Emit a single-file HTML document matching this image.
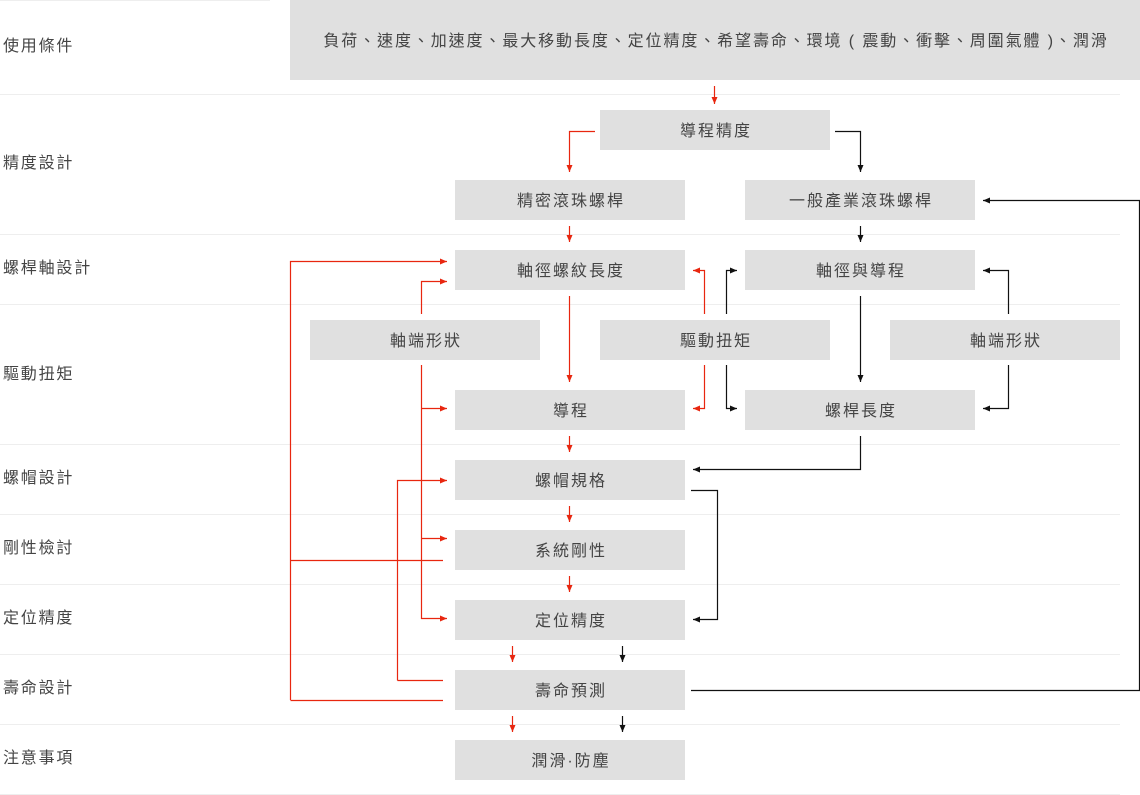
<!DOCTYPE html><html><head><meta charset="utf-8"><style>body{margin:0;background:#fff}svg{display:block}text{font-family:"Liberation Sans","Noto Sans CJK TC",sans-serif;fill:#444}</style></head><body>
<svg width="1140" height="795" viewBox="0 0 1140 795" xmlns="http://www.w3.org/2000/svg">
<defs>
<marker id="r" markerWidth="8" markerHeight="8" refX="7" refY="4" orient="auto" markerUnits="userSpaceOnUse"><path d="M0,1 L7,4 L0,7z" fill="#e8260f"/></marker>
<marker id="k" markerWidth="8" markerHeight="8" refX="7" refY="4" orient="auto" markerUnits="userSpaceOnUse"><path d="M0,1 L7,4 L0,7z" fill="#111"/></marker>
</defs>
<g stroke="#eee" stroke-width="1">
<line x1="0" y1="0.5" x2="270" y2="0.5"/>
<line x1="0" y1="94.5" x2="1120" y2="94.5"/><line x1="0" y1="234.5" x2="1120" y2="234.5"/><line x1="0" y1="304.5" x2="1120" y2="304.5"/><line x1="0" y1="444.5" x2="1120" y2="444.5"/><line x1="0" y1="514.5" x2="1120" y2="514.5"/><line x1="0" y1="584.5" x2="1120" y2="584.5"/><line x1="0" y1="654.5" x2="1120" y2="654.5"/><line x1="0" y1="724.5" x2="1120" y2="724.5"/><line x1="0" y1="794.5" x2="1120" y2="794.5"/>
</g>
<g font-size="16" letter-spacing="1.8">
<text x="3" y="51">使用條件</text><text x="3" y="168">精度設計</text><text x="3" y="273">螺桿軸設計</text><text x="3" y="379">驅動扭矩</text><text x="3" y="483">螺帽設計</text><text x="3" y="553">剛性檢討</text><text x="3" y="623">定位精度</text><text x="3" y="693">壽命設計</text><text x="3" y="763">注意事項</text>
</g>
<rect x="290" y="0" width="850" height="80" fill="#e0e0e0"/>
<text x="716" y="46" font-size="16" text-anchor="middle" letter-spacing="1.9">負荷、速度、加速度、最大移動長度、定位精度、希望壽命、環境 ( 震動、衝擊、周圍氣體 )、潤滑</text>
<g fill="#e0e0e0">
<rect x="600" y="110" width="230" height="40"/><rect x="455" y="180" width="230" height="40"/><rect x="745" y="180" width="230" height="40"/><rect x="455" y="250" width="230" height="40"/><rect x="745" y="250" width="230" height="40"/><rect x="310" y="320" width="230" height="40"/><rect x="600" y="320" width="230" height="40"/><rect x="890" y="320" width="230" height="40"/><rect x="455" y="390" width="230" height="40"/><rect x="745" y="390" width="230" height="40"/><rect x="455" y="460" width="230" height="40"/><rect x="455" y="530" width="230" height="40"/><rect x="455" y="600" width="230" height="40"/><rect x="455" y="670" width="230" height="40"/><rect x="455" y="740" width="230" height="40"/>
</g>
<g font-size="16" text-anchor="middle" letter-spacing="2">
<text x="716" y="136">導程精度</text><text x="571" y="206">精密滾珠螺桿</text><text x="861" y="206">一般產業滾珠螺桿</text><text x="571" y="276">軸徑螺紋長度</text><text x="861" y="276">軸徑與導程</text><text x="426" y="346">軸端形狀</text><text x="716" y="346">驅動扭矩</text><text x="1006" y="346">軸端形狀</text><text x="571" y="416">導程</text><text x="861" y="416">螺桿長度</text><text x="571" y="486">螺帽規格</text><text x="571" y="556">系統剛性</text><text x="571" y="626">定位精度</text><text x="571" y="696">壽命預測</text><text x="571" y="766">潤滑·防塵</text>
</g>
<g fill="none" stroke="#e8260f" stroke-width="1.2" marker-end="url(#r)">
<path d="M714.5,86 V104"/><path d="M595,131.5 H569.5 V172"/><path d="M569.5,226 V242"/><path d="M569.5,296 V382"/>
<path d="M290.5,700 V261.5 H447"/><path d="M290.5,560.5 H443" marker-end="none"/><path d="M290.5,700.5 H443" marker-end="none"/>
<path d="M421.5,314 V281.5 H447"/><path d="M421.5,365 V618.5 H447"/><path d="M421.5,408.5 H447"/><path d="M421.5,538.5 H447"/>
<path d="M397.5,680.5 V480.5 H447"/><path d="M397.5,680.5 H443" marker-end="none"/>
<path d="M704.5,314 V270.5 H693"/><path d="M704.5,365 V408.5 H693"/>
<path d="M569.5,436 V452"/><path d="M569.5,506 V522"/><path d="M569.5,576 V592"/>
<path d="M512.5,646 V662"/><path d="M512.5,716 V732"/>
</g>
<g fill="none" stroke="#111" stroke-width="1.2" marker-end="url(#k)">
<path d="M835,131.5 H860.5 V172"/><path d="M860.5,226 V242"/><path d="M860.5,296 V382"/>
<path d="M726.5,314 V270.5 H737"/><path d="M726.5,365 V408.5 H737"/>
<path d="M1008.5,314 V270.5 H983"/><path d="M1008.5,365 V408.5 H983"/>
<path d="M860.5,436 V469.5 H693"/><path d="M691,490.5 H717.5 V619.5 H693"/>
<path d="M622.5,646 V662"/><path d="M622.5,716 V732"/>
<path d="M691,690.5 H1139.5 V200.5 H983"/>
</g>
</svg></body></html>
